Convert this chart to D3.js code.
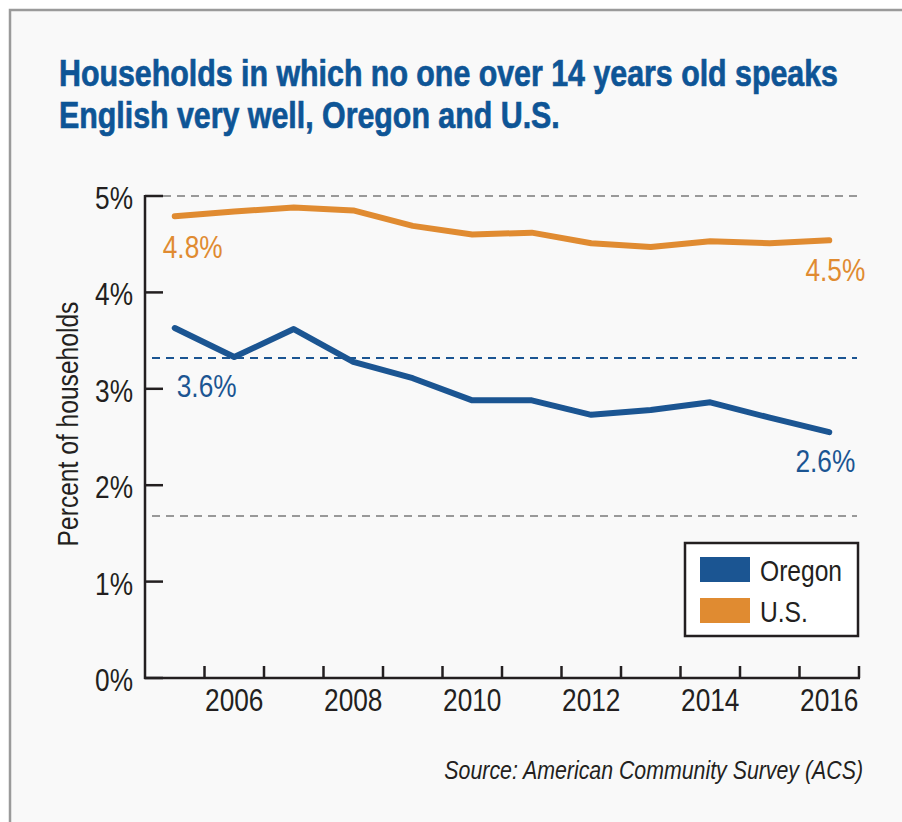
<!DOCTYPE html>
<html>
<head>
<meta charset="utf-8">
<script src="https://d3js.org/d3.v7.min.js"></script>
<style>
  body { margin: 0; background: #fff; }
  svg text { font-family: "Liberation Sans", Arial, sans-serif; }
  .title { font-weight: bold; fill: #0e5596; stroke: #0e5596; stroke-width: 0.7px; font-size: 37px; }
  .tick-label { fill: #231f20; font-size: 32px; }
  .axis-title { fill: #231f20; font-size: 30px; }
  .legend-label { fill: #231f20; font-size: 30px; }
  .source { fill: #231f20; font-size: 26px; font-style: italic; }
</style>
</head>
<body>
<script>
// data
var years = [2005, 2006, 2007, 2008, 2009, 2010, 2011, 2012, 2013, 2014, 2015, 2016];
var oregon = [3.63, 3.33, 3.62, 3.28, 3.11, 2.88, 2.88, 2.73, 2.78, 2.86, 2.70, 2.55];
var us = [4.79, 4.84, 4.88, 4.85, 4.69, 4.60, 4.62, 4.51, 4.47, 4.53, 4.51, 4.54];
var yTicks = [0, 1, 2, 3, 4, 5];
var xLabelYears = [2006, 2008, 2010, 2012, 2014, 2016];
var refLines = [5, 1.68];   // gray dashed
var oregonRef = 3.32;       // blue dashed
var seriesNames = ["Oregon", "U.S."];
var endLabels = [
  {series: "U.S.", text: "4.8%"}, {series: "Oregon", text: "3.6%"},
  {series: "U.S.", text: "4.5%"}, {series: "Oregon", text: "2.6%"}
];

var blue = "#1b5592", orange = "#e08b31";
var W = 902, H = 822;
var narrow = 0.82; // condensed look

var svg = d3.select("body").append("svg")
  .attr("width", W).attr("height", H);

svg.append("rect")
  .attr("x", 10).attr("y", 10)
  .attr("width", W + 20).attr("height", H + 20)
  .attr("fill", "#f9f9f9")
  .attr("stroke", "#9a9a9a").attr("stroke-width", 2.5);

svg.append("text").attr("class", "title")
  .attr("x", 59).attr("y", 86)
  .text("Households in which no one over 14 years old speaks");
svg.append("text").attr("class", "title")
  .attr("x", 59).attr("y", 128)
  .text("English very well, Oregon and U.S.");

var x = d3.scaleBand().domain(years).range([145, 859]).padding(0);
var y = d3.scaleLinear().domain([0, 5]).range([678, 196]);
var cx = function(yr) { return x(yr) + x.bandwidth() / 2; };

// reference dashed lines
svg.selectAll(".ref")
  .data(refLines)
  .enter().append("line")
  .attr("x1", function(d) { return d == 5 ? 163 : 152; })
  .attr("x2", 857)
  .attr("y1", function(d) { return y(d); })
  .attr("y2", function(d) { return y(d); })
  .attr("stroke", "#999")
  .attr("stroke-width", 2)
  .attr("stroke-dasharray", "8 6");

svg.append("line")
  .attr("x1", 152).attr("x2", 857)
  .attr("y1", y(oregonRef)).attr("y2", y(oregonRef))
  .attr("stroke", blue)
  .attr("stroke-width", 2)
  .attr("stroke-dasharray", "8 6");

// y axis
var yAxis = svg.append("g").attr("transform", "translate(145,0)");
yAxis.append("line")
  .attr("x1", 0).attr("x2", 0)
  .attr("y1", y(5) - 1).attr("y2", y(0) + 1)
  .attr("stroke", "#231f20").attr("stroke-width", 2.5);
yAxis.selectAll(".yt")
  .data(yTicks)
  .enter().append("line")
  .attr("x1", 0).attr("x2", 18)
  .attr("y1", function(d) { return y(d); })
  .attr("y2", function(d) { return y(d); })
  .attr("stroke", "#231f20").attr("stroke-width", 2.5);
yAxis.selectAll(".yl")
  .data(yTicks)
  .enter().append("text")
  .attr("class", "tick-label")
  .attr("x", -12)
  .attr("y", function(d) { return y(d) + 13; })
  .attr("text-anchor", "end")
  .text(function(d) { return d + "%"; });

svg.append("text").attr("class", "axis-title")
  .attr("transform", "translate(78,424) rotate(-90)")
  .attr("text-anchor", "middle")
  .text("Percent of households");

// x axis
svg.append("line")
  .attr("x1", 144).attr("x2", 860)
  .attr("y1", y(0)).attr("y2", y(0))
  .attr("stroke", "#231f20").attr("stroke-width", 2.5);
svg.selectAll(".xt")
  .data(years)
  .enter().append("line")
  .attr("x1", function(d) { return x(d) + x.bandwidth(); })
  .attr("x2", function(d) { return x(d) + x.bandwidth(); })
  .attr("y1", y(0)).attr("y2", y(0) - 12)
  .attr("stroke", "#231f20").attr("stroke-width", 2.5);
svg.selectAll(".xl")
  .data(xLabelYears)
  .enter().append("text")
  .attr("class", "tick-label")
  .attr("x", function(d) { return cx(d); })
  .attr("y", 711)
  .attr("text-anchor", "middle")
  .text(function(d) { return d; });

// lines
var line = d3.line()
  .x(function(d, i) { return cx(years[i]); })
  .y(function(d) { return y(d); });

svg.append("path")
  .attr("d", line(us))
  .attr("fill", "none").attr("stroke", orange)
  .attr("stroke-width", 6).attr("stroke-linecap", "round").attr("stroke-linejoin", "round");
svg.append("path")
  .attr("d", line(oregon))
  .attr("fill", "none").attr("stroke", blue)
  .attr("stroke-width", 6).attr("stroke-linecap", "round").attr("stroke-linejoin", "round");

// value labels at start and end
var labelPos = [
  {x: cx(years[0]) - 12, y: y(us[0]) + 42, anchor: "start"},
  {x: cx(years[0]) + 2, y: y(oregon[0]) + 69, anchor: "start"},
  {x: cx(years[11]) + 36, y: y(us[11]) + 41, anchor: "end"},
  {x: cx(years[11]) + 26, y: y(oregon[11]) + 40, anchor: "end"}
];
svg.selectAll(".vl")
  .data(endLabels)
  .enter().append("text")
  .attr("class", "tick-label")
  .attr("x", function(d, i) { return labelPos[i].x; })
  .attr("y", function(d, i) { return labelPos[i].y; })
  .attr("text-anchor", function(d, i) { return labelPos[i].anchor; })
  .style("fill", function(d) { return d.series == "Oregon" ? blue : orange; })
  .text(function(d) { return d.text; });

// legend
var legend = svg.append("g").attr("transform", "translate(685,543)");
legend.append("rect")
  .attr("width", 173).attr("height", 93)
  .attr("fill", "#fff").attr("stroke", "#231f20").attr("stroke-width", 2.5);
var li = legend.selectAll(".li")
  .data(seriesNames)
  .enter().append("g")
  .attr("transform", function(d, i) { return "translate(15," + (14 + i * 41) + ")"; });
li.append("rect")
  .attr("width", 50).attr("height", 25)
  .attr("fill", function(d) { return d == "Oregon" ? blue : orange; });
li.append("text")
  .attr("class", "legend-label")
  .attr("x", 60).attr("y", 24)
  .text(function(d) { return d; });

svg.append("text").attr("class", "source")
  .attr("x", 863).attr("y", 779)
  .attr("text-anchor", "end")
  .text("Source: American Community Survey (ACS)");

// squeeze all text horizontally to get the condensed face
svg.selectAll("text").each(function() {
  var w = this.getComputedTextLength();
  d3.select(this)
    .attr("textLength", w * narrow)
    .attr("lengthAdjust", "spacingAndGlyphs");
});
</script>
</body>
</html>
